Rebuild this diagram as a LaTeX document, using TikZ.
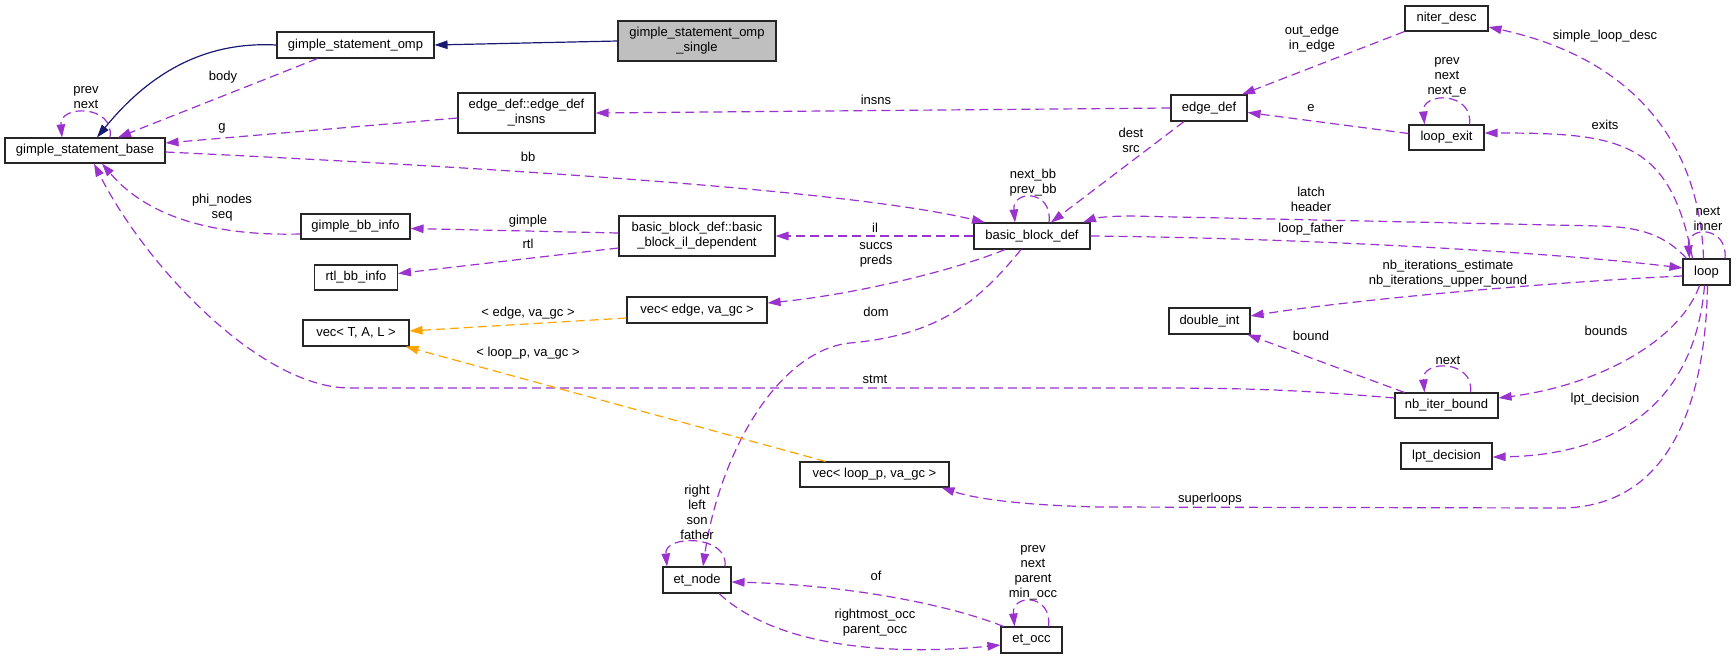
\documentclass[tikz,border=0pt]{standalone}
\usepackage{fontspec}
\setmainfont{Liberation Sans}
\usetikzlibrary{arrows.meta}
\definecolor{usecol}{RGB}{154,50,205}
\definecolor{tmplcol}{RGB}{255,165,0}
\definecolor{inhcol}{RGB}{25,25,112}
\definecolor{boxgray}{RGB}{191,191,191}
\begin{document}
\begin{tikzpicture}[x=1pt,y=-1pt,
  font=\fontsize{13}{15}\selectfont,
  cls/.style={draw=black!85, line width=1.1pt, fill=white, inner sep=0pt, align=center},
  lbl/.style={inner sep=0pt, align=center},
  arr/.style={-{Triangle[length=13pt,width=8.5pt]}},
  use/.style={arr, usecol, line width=1.2pt, dash pattern=on 9pt off 5pt},
  tmpl/.style={arr, tmplcol, line width=1.2pt, dash pattern=on 9pt off 5pt},
  inh/.style={arr, inhcol, line width=1.2pt}]
\useasboundingbox (0,0) rectangle (1736,659);

% ---------- nodes ----------
\node[cls, fill=boxgray, minimum width=158pt, minimum height=40pt] (single) at (697,41) {gimple\_statement\_omp\\\_single};
\node[cls, minimum width=157pt, minimum height=26pt] (omp) at (355.5,45) {gimple\_statement\_omp};
\node[cls, minimum width=160pt, minimum height=25pt] (base) at (85,150.5) {gimple\_statement\_base};
\node[cls, minimum width=137pt, minimum height=40pt] (insns) at (526.5,113) {edge\_def::edge\_def\\\_insns};
\node[cls, minimum width=109pt, minimum height=25pt] (gbb) at (355.5,226.5) {gimple\_bb\_info};
\node[cls, minimum width=83pt, minimum height=25pt] (rtl) at (356,277.5) {rtl\_bb\_info};
\node[cls, minimum width=156pt, minimum height=40pt] (ild) at (697,236) {basic\_block\_def::basic\\\_block\_il\_dependent};
\node[cls, minimum width=106pt, minimum height=26pt] (vectal) at (356,333) {vec< T, A, L >};
\node[cls, minimum width=140pt, minimum height=26pt] (vecedge) at (697,310) {vec< edge, va\_gc >};
\node[cls, minimum width=149pt, minimum height=25pt] (veclp) at (874.5,474.5) {vec< loop\_p, va\_gc >};
\node[cls, minimum width=68pt, minimum height=26pt] (etnode) at (697,580) {et\_node};
\node[cls, minimum width=61pt, minimum height=26pt] (etocc) at (1031.5,640) {et\_occ};
\node[cls, minimum width=116pt, minimum height=26pt] (bbd) at (1032,236) {basic\_block\_def};
\node[cls, minimum width=76pt, minimum height=26pt] (edgedef) at (1209,108) {edge\_def};
\node[cls, minimum width=81pt, minimum height=26pt] (dint) at (1209.5,321) {double\_int};
\node[cls, minimum width=103pt, minimum height=25pt] (nib) at (1446.5,405.5) {nb\_iter\_bound};
\node[cls, minimum width=91pt, minimum height=26pt] (lpt) at (1446.5,456) {lpt\_decision};
\node[cls, minimum width=83pt, minimum height=25pt] (niter) at (1446.5,18.5) {niter\_desc};
\node[cls, minimum width=75pt, minimum height=25pt] (lexit) at (1446.5,137.5) {loop\_exit};
\node[cls, minimum width=47pt, minimum height=26pt] (loop) at (1706.5,272) {loop};

% ---------- connectors ----------
\draw[inh] (single.west) -- (omp.east);
\draw[inh] (omp.west) .. controls (220,42) and (160,60) .. ([xshift=12]base.north);
\draw[use] ([xshift=-38]omp.south) -- ([xshift=33]base.north);
\draw[use] ([xshift=25]base.north) .. controls +(5,-33) and +(-3,-33) .. ([xshift=-23]base.north);
\draw[use] ([yshift=-5]insns.west) -- ([yshift=7.5]base.east);
\draw[use] ([yshift=-1.5]base.east) .. controls (500,168) and (850,190) .. ([xshift=-47]bbd.north);
\draw[use] ([yshift=3]ild.west) -- ([yshift=-2]gbb.east);
\draw[use] ([yshift=-12]ild.west) -- ([yshift=4]rtl.east);
\draw[use] ([yshift=-7.5]gbb.west) .. controls (220,236) and (150,220) .. ([xshift=17]base.south);
\draw[use] ([yshift=7.5]nib.west) .. controls (1300,390) and (1250,388) .. (1150,388) -- (350,388) .. controls (260,388) and (145,265) .. ([xshift=9]base.south);
\draw[use] (edgedef.west) -- (insns.east);
\draw[use] (bbd.west) -- (ild.east);
\draw[use] ([xshift=-27]bbd.south) .. controls (950,272) and (850,295) .. ([yshift=7]vecedge.east);
\draw[use] ([xshift=-11]bbd.south) .. controls (980,300) and (940,335) .. (850,343) .. controls (780,350) and (720,450) .. ([xshift=6]etnode.north);
\draw[use] ([xshift=-25]edgedef.south) -- ([xshift=19]bbd.north);
\draw[use] ([xshift=17]bbd.north) .. controls +(4,-33) and +(-3,-33) .. ([xshift=-17]bbd.north);
\draw[use] ([xshift=4]loop.north west) .. controls (1665,235) and (1640,227) .. (1600,226) -- (1130,216) .. controls (1110,216) and (1095,218) .. ([xshift=51]bbd.north);
\draw[use] (bbd.east) .. controls (1300,238) and (1550,252) .. ([yshift=4]loop.west);
\draw[use] ([yshift=-4]loop.west) .. controls (1550,282) and (1350,300) .. ([yshift=5]dint.east);
\draw[use] ([xshift=-3]loop.north) .. controls (1700,150) and (1640,60) .. ([yshift=-8.5]niter.east);
\draw[use] ([xshift=-14]loop.north) .. controls (1670,140) and (1620,133) .. ([yshift=4.5]lexit.east);
\draw[use] ([xshift=18.5]loop.north) .. controls +(3,-33) and +(-3,-33) .. ([xshift=-17]loop.north);
\draw[use] ([yshift=4]lexit.west) -- ([yshift=-4.5]edgedef.east);
\draw[use] ([xshift=23]lexit.north) .. controls +(4,-33) and +(-3,-33) .. ([xshift=-22]lexit.north);
\draw[use] (niter.south west) -- ([xshift=33]edgedef.north);
\draw[use] ([xshift=-7]loop.south) .. controls (1680,340) and (1600,385) .. ([yshift=7.5]nib.east);
\draw[use] ([xshift=-2]loop.south) .. controls (1695,400) and (1620,455) .. ([yshift=-1]lpt.east);
\draw[use] ([xshift=1]loop.south) .. controls (1705,420) and (1660,508) .. (1560,508) -- (1100,507) .. controls (1010,505) and (970,497) .. ([xshift=67]veclp.south);
\draw[tmpl] ([yshift=-8]vecedge.west) -- ([yshift=2]vectal.east);
\draw[tmpl] ([xshift=-49]veclp.north) -- ([xshift=-4]vectal.south east);
\draw[use] ([xshift=-42]nib.north) -- ([xshift=38]dint.south);
\draw[use] ([xshift=24]nib.north) .. controls +(4,-33) and +(-3,-33) .. ([xshift=-22]nib.north);
\draw[use] ([xshift=-28]etocc.north) .. controls (950,605) and (850,585) .. ([yshift=-2]etnode.east);
\draw[use] ([xshift=22]etnode.south) .. controls (780,650) and (900,655) .. ([yshift=-5]etocc.west);
\draw[use] ([xshift=17]etocc.north) .. controls +(4,-33) and +(-3,-33) .. ([xshift=-17]etocc.north);
\draw[use] ([xshift=28]etnode.north) .. controls +(4,-32) and +(-3,-32) .. ([xshift=-30]etnode.north);

% ---------- labels ----------
\node[lbl] (l1) at (223,77) {body};
\node[lbl] (l2) at (86,98) {prev\\next};
\node[lbl] (l3) at (222,128) {g};
\node[lbl] (l4) at (528,157) {bb};
\node[lbl] (l5) at (222,208) {phi\_nodes\\seq};
\node[lbl] (l6) at (528,221) {gimple};
\node[lbl] (l7) at (528,244) {rtl};
\node[lbl] (l8) at (876,100) {insns};
\node[lbl] (l9) at (875,228) {il};
\node[lbl] (l10) at (876,255) {succs\\preds};
\node[lbl] (l11) at (876,312) {dom};
\node[lbl] (l12) at (875,379) {stmt};
\node[lbl] (l13) at (1131,140) {dest\\src};
\node[lbl] (l14) at (1033,183) {next\_bb\\prev\_bb};
\node[lbl] (l15) at (1311,199) {latch\\header};
\node[lbl] (l16) at (1311,229) {loop\_father};
\node[lbl] (l17) at (1312,39) {out\_edge\\in\_edge};
\node[lbl] (l18) at (1311,108) {e};
\node[lbl] (l19) at (1447,77) {prev\\next\\next\_e};
\node[lbl] (l20) at (1605,36) {simple\_loop\_desc};
\node[lbl] (l21) at (1605,125) {exits};
\node[lbl] (l22) at (1708,219) {next\\inner};
\node[lbl] (l23) at (1448,274) {nb\_iterations\_estimate\\nb\_iterations\_upper\_bound};
\node[lbl] (l24) at (1311,336) {bound};
\node[lbl] (l25) at (1448,360) {next};
\node[lbl] (l26) at (1606,331) {bounds};
\node[lbl] (l27) at (1605,399) {lpt\_decision};
\node[lbl] (l28) at (1210,499) {superloops};
\node[lbl] (l29) at (528,313) {< edge, va\_gc >};
\node[lbl] (l30) at (528,353) {< loop\_p, va\_gc >};
\node[lbl] (l31) at (697,512) {right\\left\\son\\father};
\node[lbl] (l32) at (876,576) {of};
\node[lbl] (l33) at (875,623) {rightmost\_occ\\parent\_occ};
\node[lbl] (l34) at (1033,573) {prev\\next\\parent\\min\_occ};
\end{tikzpicture}
\end{document}
